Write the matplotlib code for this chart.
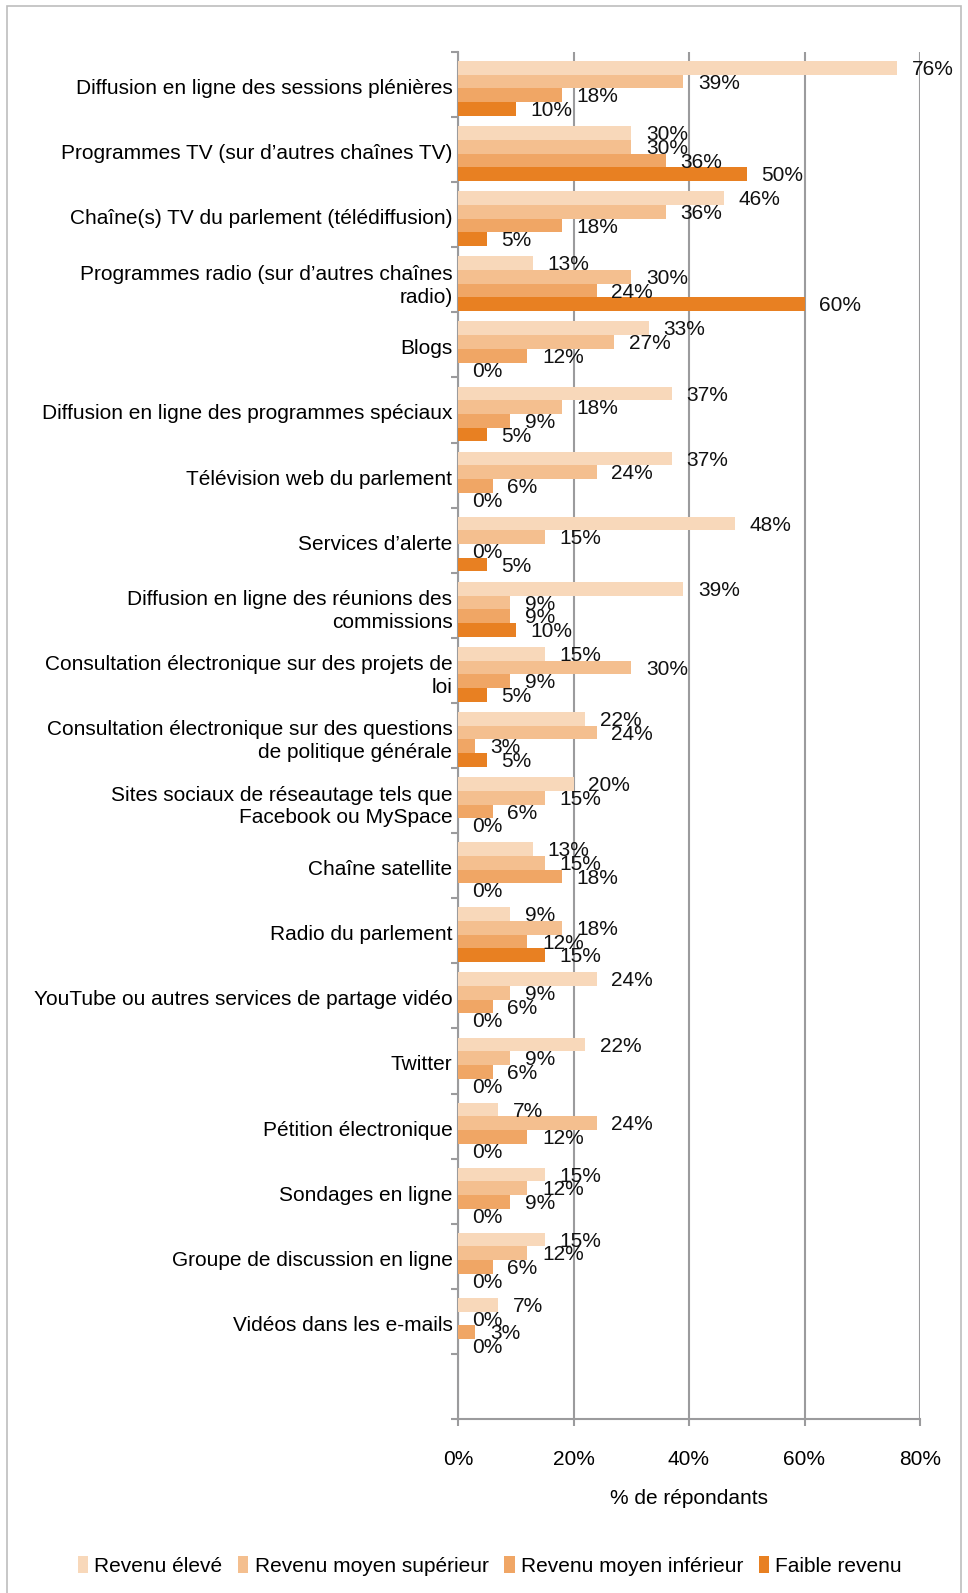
import numpy as np
import matplotlib.pyplot as plt
from matplotlib.patches import Rectangle

plt.rcParams['font.family'] = ['Liberation Sans', 'DejaVu Sans']

categories = [
    "Diffusion en ligne des sessions plénières",
    "Programmes TV (sur d’autres chaînes TV)",
    "Chaîne(s) TV du parlement (télédiffusion)",
    "Programmes radio (sur d’autres chaînes\nradio)",
    "Blogs",
    "Diffusion en ligne des programmes spéciaux",
    "Télévision web du parlement",
    "Services d’alerte",
    "Diffusion en ligne des réunions des\ncommissions",
    "Consultation électronique sur des projets de\nloi",
    "Consultation électronique sur des questions\nde politique générale",
    "Sites sociaux de réseautage tels que\nFacebook ou MySpace",
    "Chaîne satellite",
    "Radio du parlement",
    "YouTube ou autres services de partage vidéo",
    "Twitter",
    "Pétition électronique",
    "Sondages en ligne",
    "Groupe de discussion en ligne",
    "Vidéos dans les e-mails",
]

series_names = ["Revenu élevé", "Revenu moyen supérieur",
                "Revenu moyen inférieur", "Faible revenu"]

revenu_eleve = [76, 30, 46, 13, 33, 37, 37, 48, 39, 15, 22, 20, 13, 9, 24, 22, 7, 15, 15, 7]
revenu_moyen_sup = [39, 30, 36, 30, 27, 18, 24, 15, 9, 30, 24, 15, 15, 18, 9, 9, 24, 12, 12, 0]
revenu_moyen_inf = [18, 36, 18, 24, 12, 9, 6, 0, 9, 9, 3, 6, 18, 12, 6, 6, 12, 9, 6, 3]
faible_revenu = [10, 50, 5, 60, 0, 5, 0, 5, 10, 5, 5, 0, 0, 15, 0, 0, 0, 0, 0, 0]

x_ticks = [0, 20, 40, 60, 80]

colors = ['#F8D8BA', '#F4BF8F', '#F0A665', '#E88022']
grid_color = '#9B9B9D'
fs = 15

fig = plt.figure(figsize=(9.68, 15.93), dpi=100)
ax = fig.add_axes([458 / 968, 1 - 1419 / 1593, 462 / 968, (1419 - 52) / 1593])

# outer frame around the whole chart
fig.patches.append(Rectangle((7 / 968, -0.01), (961 - 7) / 968, 1 - 6 / 1593 + 0.01,
                             transform=fig.transFigure, fill=False,
                             edgecolor='#BDBDBD', linewidth=1.2))

n = len(categories)
ypos = np.arange(n)
bar_h = 0.21
all_series = [revenu_eleve, revenu_moyen_sup, revenu_moyen_inf, faible_revenu]

for k, (vals, name, col) in enumerate(zip(all_series, series_names, colors)):
    yk = ypos + (k - 1.5) * bar_h + 0.06
    ax.barh(yk, vals, height=bar_h, color=col, label=name, zorder=3)
    for v, y in zip(vals, yk):
        ax.annotate(f'{v}%', xy=(v, y), xytext=(10.5, -1.2), textcoords='offset points',
                    va='center', ha='left', fontsize=fs, color='#111111', zorder=4)

ax.set_xlim(0, 80)
ax.set_ylim(n + 0.5, -0.5)

ax.set_xticks(x_ticks)
ax.set_xticklabels([f'{t}%' for t in x_ticks])
ax.xaxis.grid(True, color=grid_color, linewidth=1.5, zorder=0)
ax.tick_params(axis='x', length=5, width=1.5, color=grid_color, pad=17, labelsize=fs)

# category boundaries get the tick marks, centres carry the labels
ax.set_yticks(np.arange(-0.5, n + 1, 1.0))
ax.set_yticklabels([])
ax.set_yticks(ypos + 0.03, minor=True)
ax.set_yticklabels(categories, minor=True, fontsize=fs, ha='right', linespacing=1.25)
ax.tick_params(axis='y', which='major', length=5, width=1.5, color=grid_color)
ax.tick_params(axis='y', which='minor', length=0, pad=4)

for side in ['top', 'right']:
    ax.spines[side].set_visible(False)
for side in ['left', 'bottom']:
    ax.spines[side].set_color(grid_color)
    ax.spines[side].set_linewidth(1.5)

ax.set_xlabel('% de répondants', fontsize=fs, labelpad=15)

fig.legend(loc='center', bbox_to_anchor=(0.506, 1 - 1566 / 1593), ncol=4,
           frameon=False, fontsize=fs, handlelength=0.5, handleheight=0.9,
           handletextpad=0.3, columnspacing=0.75)

fig.savefig('out.png', dpi=100)
